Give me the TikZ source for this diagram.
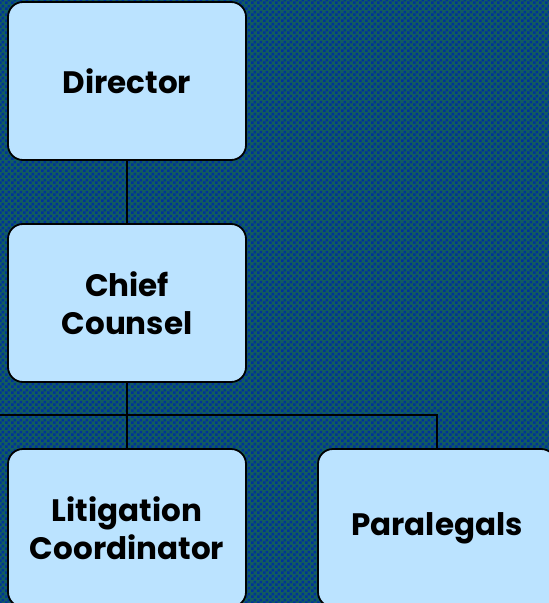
\documentclass[tikz,border=0pt]{standalone}
\usepackage{fontspec}
\setmainfont{Poppins}
\usetikzlibrary{patterns.meta}

\definecolor{bgblue}{RGB}{0,51,153}
\definecolor{bgteal}{RGB}{18,92,96}
\definecolor{boxfill}{RGB}{187,227,255}

% small two-colour checkerboard for the backdrop
\tikzdeclarepattern{
  name=checks,
  type=uncolored,
  bounding box={(0,0) and (6bp,6bp)},
  tile size={(6bp,6bp)},
  code={
    \fill (0,0) rectangle (3bp,3bp);
    \fill (3bp,3bp) rectangle (6bp,6bp);
  }
}

\tikzset{
  orgbox/.style={draw=black, line width=1.8bp, fill=boxfill,
    rounded corners=15bp, minimum width=238bp, minimum height=158bp,
    align=center, font=\bfseries\fontsize{31bp}{38bp}\selectfont,
    inner sep=0pt},
  link/.style={draw=black, line width=1.8bp}
}

\begin{document}
\begin{tikzpicture}[x=1bp, y=-1bp]
  \useasboundingbox (0,0) rectangle (549,603);
  \clip (0,0) rectangle (549,603);
  \fill[bgteal] (0,0) rectangle (549,603);
  \fill[pattern=checks, pattern color=bgblue] (0,0) rectangle (549,603);

  \node[orgbox] (director) at (127,81) {Director};
  \node[orgbox] (chief) at (127,303) {Chief\\Counsel};
  \node[orgbox] (litig) at (127,528) {Litigation\\Coordinator};
  \node[orgbox] (para) at (437,528) {Paralegals};

  \coordinate (busL) at (-10,415);
  \coordinate (busM) at (127,415);
  \coordinate (busR) at (437,415);

  \draw[link] (director.south) -- (chief.north);
  \draw[link] (chief.south) -- (busM);
  \draw[link] (busL) -- (busR) -- (para.north);
  \draw[link] (busM) -- (litig.north);
\end{tikzpicture}
\end{document}
